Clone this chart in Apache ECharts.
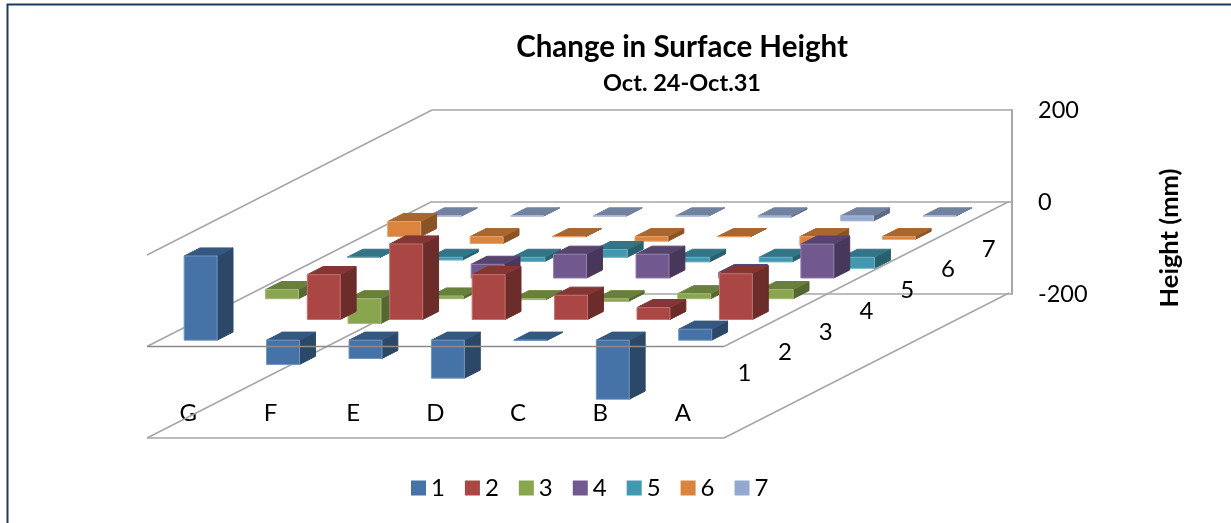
<!DOCTYPE html>
<html>
<head>
<meta charset="utf-8">
<style>
  html, body { margin: 0; padding: 0; background: #fff; overflow: hidden; }
  #chart { width: 1231px; height: 523px; }
</style>
<script src="https://cdn.jsdelivr.net/npm/echarts@6/dist/echarts.min.js"></script>
</head>
<body>
<div id="chart"></div>
<script>
// Surface height change per plot cell: columns G..A, rows 1..7 (mm)
const categories = ['G', 'F', 'E', 'D', 'C', 'B', 'A'];
const rowNames = ['1', '2', '3', '4', '5', '6', '7'];
const heightTicks = [-200, 0, 200];

const row1 = [184, -53, -40, -83, 0, -129, 24];
const row2 = [null, 98, 165, 98, 53, 26, 100];
const row3 = [20, -54, 6, -2, -6, 11, 20];
const row4 = [null, null, 30, 52, 52, 12, 74];
const row5 = [0, -6, -9, 17, -10, -10, -24];
const row6 = [33, -15, 0, -10, 0, -20, -6];
const row7 = [0, 0, 0, 0, -3, -11, 0];
const rows = [row1, row2, row3, row4, row5, row6, row7];

const rowColors = ['#4572A7', '#AA4643', '#89A54E', '#71588F', '#4198AF', '#DB843D', '#93A9CF'];

// Box edges: [side, value, row, side, value, row]; side 0 = left, 1 = right, row 0 = front, 7 = back
const rearEdges = [
  [0, -200, 0, 1, -200, 0],
  [0, -200, 0, 0, -200, 7],
  [1, -200, 0, 1, -200, 7],
  [0, 0, 0, 0, 0, 7],
  [1, 0, 0, 1, 0, 7],
  [0, 200, 0, 0, 200, 7]
];
const frontEdges = [[0, 0, 0, 1, 0, 0]];

// Oblique projection: one row of depth moves a point this far on screen
const FRONT = { left: 147, top: 255, width: 577, height: 183 };
const BACK = { left: 432, top: 110, width: 580, height: 184 };
const ROW_DX = (BACK.left - FRONT.left) / 7;
const ROW_DY = (BACK.top - FRONT.top) / 7;
const BAR_WIDTH = 0.4;   // share of a column
const BAR_DEPTH = 0.39;  // share of a row
const ROW_LABEL_VALUE = -81;
const FONT = 'Lato, "Open Sans", sans-serif';

const chart = echarts.init(document.getElementById('chart'), null, { renderer: 'canvas' });

function shift(point, depth) {
  return [point[0] + depth * ROW_DX, point[1] + depth * ROW_DY];
}

// Multiplies a colour's channels to shade the top and side faces
function shade(color, factor) {
  const c = echarts.color.parse(color);
  return 'rgb(' + Math.round(c[0] * factor) + ',' + Math.round(c[1] * factor) + ',' + Math.round(c[2] * factor) + ')';
}

function renderBar(rowIndex) {
  return function (params, api) {
    const k = api.value(0);
    const v = api.value(1);
    const color = rowColors[rowIndex];
    const band = api.size([1, 0])[0];
    const halfW = band * BAR_WIDTH / 2;
    const cx = api.coord([k, 0])[0];
    const yTop = api.coord([k, Math.max(v, 0)])[1];
    const yBot = api.coord([k, Math.min(v, 0)])[1];
    const d0 = rowIndex + 0.5 - BAR_DEPTH / 2;
    const d1 = rowIndex + 0.5 + BAR_DEPTH / 2;
    const x0 = cx - halfW;
    const x1 = cx + halfW;
    const edge = echarts.color.lift(color, 0.25);
    const poly = (pts, fill, stroke) => ({
      type: 'polygon',
      shape: { points: pts },
      style: { fill: fill, stroke: stroke, lineWidth: 1, lineJoin: 'round' }
    });
    const topColor = shade(color, 0.77);
    const sideColor = shade(color, 0.63);
    return {
      type: 'group',
      children: [
        poly([shift([x1, yTop], d0), shift([x1, yTop], d1), shift([x1, yBot], d1), shift([x1, yBot], d0)], sideColor, sideColor),
        poly([shift([x0, yTop], d0), shift([x1, yTop], d0), shift([x1, yTop], d1), shift([x0, yTop], d1)], topColor, topColor),
        poly([shift([x0, yTop], d0), shift([x1, yTop], d0), shift([x1, yBot], d0), shift([x0, yBot], d0)], color, edge)
      ]
    };
  };
}

function renderEdge(width, stroke) {
  return function (params, api) {
    const band = api.size([1, 0])[0];
    const at = (side, value, depth) => {
      const base = side === 0
        ? api.coord([0, value])[0] - band / 2
        : api.coord([categories.length - 1, value])[0] + band / 2;
      return shift([base, api.coord([0, value])[1]], depth);
    };
    const a = at(api.value(0), api.value(1), api.value(2));
    const b = at(api.value(3), api.value(4), api.value(5));
    return {
      type: 'line',
      shape: { x1: a[0], y1: a[1], x2: b[0], y2: b[1] },
      style: { stroke: stroke, lineWidth: width }
    };
  };
}

function renderRowLabel(params, api) {
  const band = api.size([1, 0])[0];
  const d = api.value(2);
  const p = api.coord([categories.length - 1, api.value(1)]);
  const q = shift([p[0] + band / 2, p[1]], d + 0.5);
  return {
    type: 'text',
    style: {
      text: rowNames[d], x: q[0], y: q[1],
      align: 'center', verticalAlign: 'middle',
      font: '24px ' + FONT, fill: '#000'
    }
  };
}

const barSeries = rows.map((values, r) => ({
  name: rowNames[r],
  type: 'custom',
  coordinateSystem: 'cartesian2d',
  xAxisIndex: 0,
  yAxisIndex: 0,
  z: 20 - r,
  itemStyle: { color: rowColors[r] },
  encode: { x: 0, y: 1 },
  data: values.map((v, k) => [k, v]).filter(d => d[1] !== null),
  renderItem: renderBar(r)
}));

chart.setOption({
  animation: false,
  backgroundColor: '#fff',
  title: [
    {
      text: 'Change in Surface Height', left: 677, top: 27, textAlign: 'center',
      textStyle: { fontFamily: FONT, fontWeight: 'bold', fontSize: 29.5, color: '#000' }
    },
    {
      text: 'Oct. 24-Oct.31', left: 677, top: 66, textAlign: 'center',
      textStyle: { fontFamily: FONT, fontWeight: 'bold', fontSize: 23.5, color: '#000' }
    }
  ],
  legend: {
    data: rowNames,
    left: 406, top: 471,
    icon: 'rect', itemWidth: 15, itemHeight: 15, itemGap: 20,
    textStyle: { fontFamily: FONT, fontSize: 24, color: '#000' },
    selectedMode: false
  },
  grid: [
    Object.assign({ containLabel: false }, FRONT),
    Object.assign({ containLabel: false }, BACK)
  ],
  xAxis: [
    {
      gridIndex: 0, type: 'category', data: categories,
      axisLine: { show: false }, axisTick: { show: false }, splitLine: { show: false },
      axisLabel: { margin: -37, fontFamily: FONT, fontSize: 24, color: '#000', interval: 0 }
    },
    { gridIndex: 1, type: 'category', data: categories, show: false }
  ],
  yAxis: [
    { gridIndex: 0, type: 'value', min: -200, max: 200, interval: 200, show: false },
    {
      gridIndex: 1, type: 'value', position: 'right',
      min: heightTicks[0], max: heightTicks[2], interval: 200,
      axisLine: { show: true, lineStyle: { color: '#a8a8a8', width: 2 } },
      axisTick: { show: false },
      axisLabel: { margin: 26, padding: [2, 0, 0, 0], fontFamily: FONT, fontSize: 23.5, color: '#000' },
      splitLine: { show: true, lineStyle: { color: '#a6a6a6', width: 1.5 } },
      name: 'Height (mm)', nameLocation: 'middle', nameGap: 145, nameRotate: 90,
      nameTextStyle: { fontFamily: FONT, fontWeight: 'bold', fontSize: 25.5, color: '#000', padding: [0, 72, 0, 0] }
    }
  ],
  graphic: [{
    type: 'polyline', silent: true, z: 100,
    shape: { points: [[7.5, 523], [7.5, 4.5], [1231, 4.5]] },
    style: { stroke: '#1f3b5c', lineWidth: 2, fill: null }
  }],
  series: barSeries.concat([
    {
      type: 'custom', coordinateSystem: 'cartesian2d', xAxisIndex: 0, yAxisIndex: 0, z: 2,
      encode: { x: 0, y: 1 }, data: rearEdges, renderItem: renderEdge(1.5, '#a6a6a6')
    },
    {
      type: 'custom', coordinateSystem: 'cartesian2d', xAxisIndex: 0, yAxisIndex: 0, z: 40,
      encode: { x: 0, y: 1 }, data: frontEdges, renderItem: renderEdge(1.5, '#8c8c8c')
    },
    {
      type: 'custom', coordinateSystem: 'cartesian2d', xAxisIndex: 0, yAxisIndex: 0, z: 3,
      encode: { x: 0, y: 1 },
      data: rowNames.map((n, d) => [categories.length - 1, ROW_LABEL_VALUE, d]),
      renderItem: renderRowLabel
    }
  ])
});
</script>
</body>
</html>
